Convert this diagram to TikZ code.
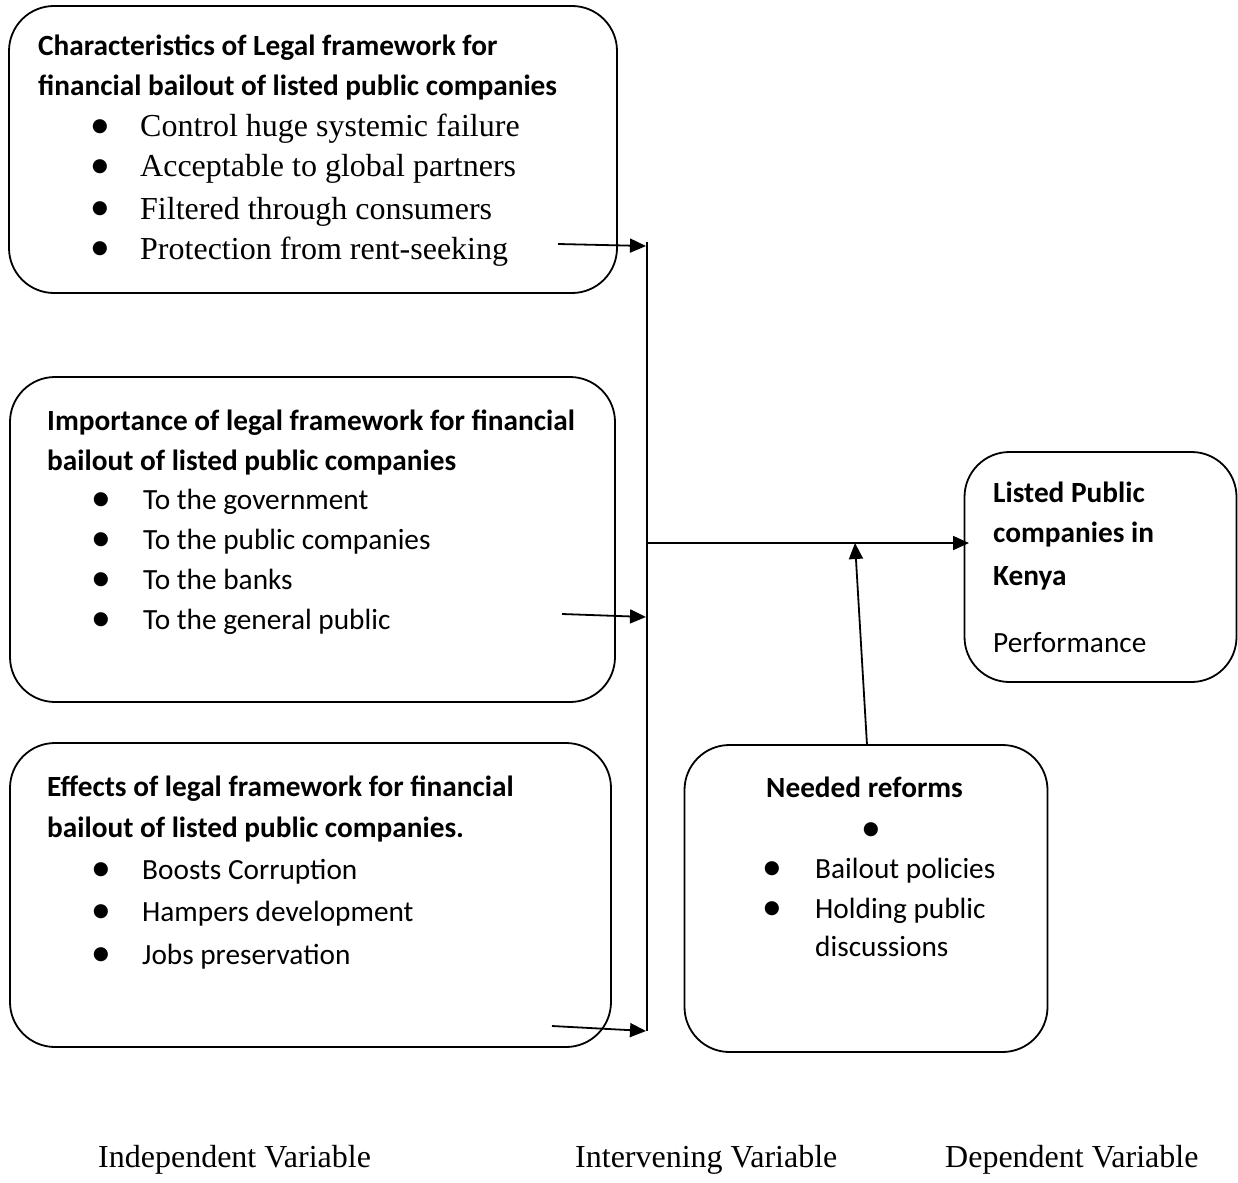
\documentclass[tikz,border=0pt]{standalone}
\usepackage{fontspec}
\setmainfont{Liberation Serif}
\newfontfamily\calfam{Carlito}
\newfontfamily\dvfam{DejaVu Sans}
\usetikzlibrary{arrows.meta}
\newcommand\hdfont{\calfam\bfseries\fontsize{29.3}{35}\selectfont}
\newcommand\itfont{\calfam\fontsize{29.3}{35}\selectfont}
\newcommand\tmfont{\rmfamily\fontsize{32}{38}\selectfont}
\newcommand\bulfont{\dvfam\fontsize{18.5}{21}\selectfont}
\tikzset{
  box/.style={draw, line width=1.8pt, rounded corners=45pt, inner sep=0pt},
  hd/.style={anchor=base west, inner sep=0pt, font=\hdfont},
  it/.style={anchor=base west, inner sep=0pt, font=\itfont},
  tm/.style={anchor=base west, inner sep=0pt, font=\tmfont},
  bul/.style={anchor=base, inner sep=0pt, font=\bulfont, yshift=5pt},
  arr/.style={line width=1.8pt, -{Triangle[length=16pt,width=14pt]}},
  bus/.style={line width=1.8pt}
}
\begin{document}
\begin{tikzpicture}[x=1pt,y=-1pt]
\useasboundingbox (0,0) rectangle (1238,1182);
% boxes
\node[box, minimum width=608pt, minimum height=287pt] (b1) at (313,149.5) {};
\node[box, minimum width=605pt, minimum height=325pt] (b2) at (312.5,539.5) {};
\node[box, minimum width=601pt, minimum height=304pt] (b3) at (310.5,895) {};
\node[box, minimum width=363pt, minimum height=307pt] (b4) at (866,898.5) {};
\node[box, minimum width=272pt, minimum height=230pt] (b5) at (1100.5,567) {};
% box 1 text
\node[hd] (t11) at (38,56) {Characteristics of Legal framework for};
\node[hd] (t12) at (38,96) {financial bailout of listed public companies};
\node[bul] (p11) at (100,137) {●};
\node[bul] (p12) at (100,177) {●};
\node[bul] (p13) at (100,219) {●};
\node[bul] (p14) at (100,259) {●};
\node[tm] (i11) at (140,137) {Control huge systemic failure};
\node[tm] (i12) at (140,177) {Acceptable to global partners};
\node[tm] (i13) at (140,219) {Filtered through consumers};
\node[tm] (i14) at (140,259) {Protection from rent-seeking};
% box 2 text
\node[hd] (t21) at (47,430) {Importance of legal framework for financial};
\node[hd] (t22) at (47,470) {bailout of listed public companies};
\node[bul] (p21) at (101,509) {●};
\node[bul] (p22) at (101,549) {●};
\node[bul] (p23) at (101,589) {●};
\node[bul] (p24) at (101,629) {●};
\node[it] (i21) at (143,509) {To the government};
\node[it] (i22) at (143,549) {To the public companies};
\node[it] (i23) at (143,589) {To the banks};
\node[it] (i24) at (143,629) {To the general public};
% box 3 text
\node[hd] (t31) at (47,796) {Effects of legal framework for financial};
\node[hd] (t32) at (47,837) {bailout of listed public companies.};
\node[bul] (p31) at (101,879) {●};
\node[bul] (p32) at (101,921) {●};
\node[bul] (p33) at (101,964) {●};
\node[it] (i31) at (142,879) {Boosts Corruption};
\node[it] (i32) at (142,921) {Hampers development};
\node[it] (i33) at (142,964) {Jobs preservation};
% box 4 text
\node[hd] (t41) at (766,797) {Needed reforms};
\node[bul] (p40) at (871,839) {●};
\node[bul] (p41) at (772,878) {●};
\node[bul] (p42) at (772,918) {●};
\node[it] (i41) at (815,878) {Bailout policies};
\node[it] (i42) at (815,918) {Holding public};
\node[it] (i43) at (815,956) {discussions};
% box 5 text
\node[hd] (t51) at (993,502) {Listed Public};
\node[hd] (t52) at (993,542) {companies in};
\node[hd] (t53) at (993,585) {Kenya};
\node[it] (i51) at (993,652) {Performance};
% bottom labels
\node[tm] (l1) at (98,1167) {Independent Variable};
\node[tm] (l2) at (575,1167) {Intervening Variable};
\node[tm] (l3) at (945,1167) {Dependent Variable};
% connectors
\coordinate (bustop) at (647,242);
\coordinate (busbot) at (647,1031);
\coordinate (busmid) at (647,543);
\coordinate (a1s) at (558,244);
\coordinate (a1e) at (646,246);
\coordinate (a2s) at (562,614);
\coordinate (a2e) at (646,617);
\coordinate (a3s) at (552,1026);
\coordinate (a3e) at (646,1031);
\coordinate (mend) at (969,543);
\coordinate (ustart) at (867,745);
\coordinate (uend) at (855,543);
\draw[bus] (bustop) -- (busbot);
\draw[arr] (a1s) -- (a1e);
\draw[arr] (a2s) -- (a2e);
\draw[arr] (a3s) -- (a3e);
\draw[arr] (busmid) -- (mend);
\draw[arr] (ustart) -- (uend);
\end{tikzpicture}
\end{document}
